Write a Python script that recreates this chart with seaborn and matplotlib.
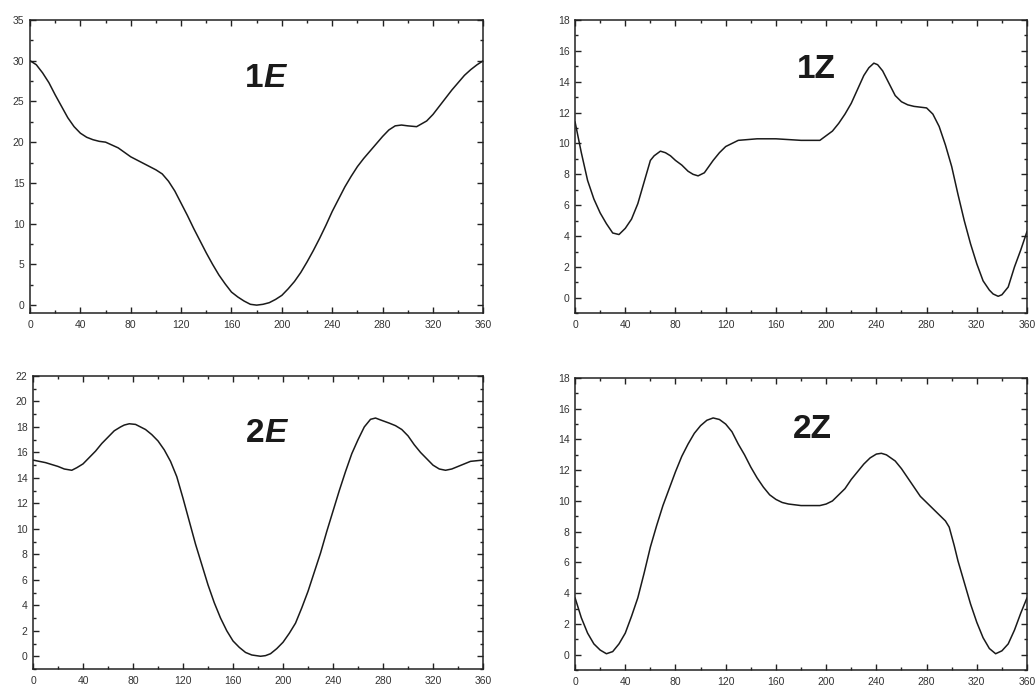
import matplotlib
matplotlib.use('Agg')
import matplotlib.pyplot as plt
from matplotlib.ticker import MultipleLocator
import seaborn as sns

sns.set_theme(style='ticks')
plt.rcParams['font.family'] = ['Liberation Sans', 'DejaVu Sans']

# 1E
e1_x = [0, 5, 10, 15, 20, 25, 30, 35, 40, 45, 50, 55, 60, 70, 80, 90, 100, 105,
        110, 115, 120, 125, 130, 135, 140, 145, 150, 155, 160, 165, 170, 175,
        180, 185, 190, 195, 200, 205, 210, 215, 220, 225, 230, 235, 240, 245,
        250, 255, 260, 265, 270, 275, 280, 285, 290, 295, 300, 307, 315, 320,
        325, 330, 335, 340, 345, 350, 355, 360]
e1_y = [30.0, 29.5, 28.5, 27.3, 25.8, 24.4, 23.0, 21.9, 21.1, 20.6, 20.3, 20.1,
        20.0, 19.3, 18.2, 17.4, 16.6, 16.1, 15.2, 14.0, 12.5, 11.0, 9.4, 7.9,
        6.4, 5.0, 3.7, 2.6, 1.6, 1.0, 0.5, 0.1, 0.0, 0.1, 0.3, 0.7, 1.2, 2.0,
        2.9, 4.0, 5.3, 6.7, 8.2, 9.8, 11.5, 13.0, 14.5, 15.8, 17.0, 18.0, 18.9,
        19.8, 20.7, 21.5, 22.0, 22.1, 22.0, 21.9, 22.6, 23.4, 24.4, 25.4, 26.4,
        27.3, 28.2, 28.9, 29.5, 30.0]

# 1Z
z1_x = [0, 5, 10, 15, 20, 25, 30, 35, 40, 45, 50, 55, 60, 63, 68, 72, 76, 80,
        85, 90, 94, 98, 103, 110, 115, 120, 125, 130, 145, 160, 180, 195, 205,
        210, 215, 220, 225, 230, 234, 238, 241, 245, 250, 255, 260, 265, 270,
        280, 285, 290, 295, 300, 305, 310, 315, 320, 325, 330, 333, 337, 340,
        345, 350, 355, 360]
z1_y = [11.4, 9.4, 7.6, 6.4, 5.5, 4.8, 4.2, 4.1, 4.5, 5.1, 6.1, 7.5, 8.9, 9.2,
        9.5, 9.4, 9.2, 8.9, 8.6, 8.2, 8.0, 7.9, 8.1, 8.9, 9.4, 9.8, 10.0, 10.2,
        10.3, 10.3, 10.2, 10.2, 10.8, 11.3, 11.9, 12.6, 13.5, 14.4, 14.9, 15.2,
        15.1, 14.7, 13.9, 13.1, 12.7, 12.5, 12.4, 12.3, 11.9, 11.1, 9.9, 8.5,
        6.7, 5.0, 3.5, 2.2, 1.1, 0.5, 0.25, 0.1, 0.2, 0.7, 2.0, 3.1, 4.3]

# 2E
e2_x = [0, 5, 10, 15, 20, 25, 31, 35, 40, 45, 50, 55, 60, 65, 70, 73, 77, 82,
        90, 95, 100, 105, 110, 115, 120, 125, 130, 135, 140, 145, 150, 155, 160,
        165, 170, 175, 182, 186, 190, 195, 200, 205, 210, 215, 220, 225, 230,
        235, 240, 245, 250, 255, 260, 265, 270, 274, 278, 285, 290, 295, 300,
        305, 310, 315, 320, 325, 330, 335, 340, 345, 350, 355, 360]
e2_y = [15.4, 15.3, 15.2, 15.05, 14.9, 14.7, 14.6, 14.8, 15.1, 15.6, 16.1, 16.7,
        17.2, 17.7, 18.0, 18.15, 18.25, 18.2, 17.8, 17.4, 16.9, 16.2, 15.3, 14.1,
        12.4, 10.6, 8.8, 7.2, 5.6, 4.2, 3.0, 2.0, 1.2, 0.7, 0.3, 0.1, 0.0, 0.05,
        0.2, 0.6, 1.1, 1.8, 2.6, 3.8, 5.1, 6.6, 8.1, 9.8, 11.4, 13.0, 14.5, 15.9,
        17.0, 18.0, 18.6, 18.7, 18.55, 18.3, 18.1, 17.8, 17.3, 16.6, 16.0, 15.5,
        15.0, 14.7, 14.6, 14.7, 14.9, 15.1, 15.3, 15.35, 15.4]

# 2Z
z2_x = [0, 5, 10, 15, 20, 25, 30, 35, 40, 45, 50, 55, 60, 65, 70, 75, 80, 85,
        90, 95, 100, 105, 110, 115, 120, 125, 130, 135, 140, 145, 150, 155, 160,
        165, 170, 180, 188, 195, 200, 205, 210, 215, 220, 225, 230, 235, 240,
        244, 248, 255, 260, 265, 270, 275, 280, 285, 290, 295, 298, 302, 305,
        310, 315, 320, 325, 330, 335, 340, 345, 350, 355, 360]
z2_y = [3.7, 2.4, 1.4, 0.7, 0.3, 0.06, 0.2, 0.7, 1.4, 2.5, 3.7, 5.3, 7.0, 8.4,
        9.7, 10.8, 11.9, 12.9, 13.7, 14.4, 14.9, 15.25, 15.4, 15.3, 15.0, 14.5,
        13.7, 13.0, 12.2, 11.5, 10.9, 10.4, 10.1, 9.9, 9.8, 9.7, 9.7, 9.7, 9.8,
        10.0, 10.4, 10.8, 11.4, 11.9, 12.4, 12.8, 13.05, 13.1, 13.0, 12.6, 12.1,
        11.5, 10.9, 10.3, 9.9, 9.5, 9.1, 8.7, 8.3, 7.1, 6.1, 4.7, 3.3, 2.1, 1.1,
        0.4, 0.06, 0.25, 0.7, 1.6, 2.7, 3.7]

x_ticks = list(range(0, 361, 40))

panels = [
    # (x, y, label num, letter, italic, ylim, major, minor, rect, label pos)
    (e1_x, e1_y, '1', 'E', True, (-1, 35), 5, 2.5,
     [0.029, 0.544, 0.438, 0.427], (0.512, 0.80)),
    (z1_x, z1_y, '1', 'Z', False, (-1, 18), 2, 1,
     [0.5556, 0.544, 0.4367, 0.427], (0.533, 0.83)),
    (e2_x, e2_y, '2', 'E', True, (-1, 22), 2, 1,
     [0.0319, 0.0262, 0.4348, 0.4265], (0.512, 0.803)),
    (z2_x, z2_y, '2', 'Z', False, (-1, 18), 2, 1,
     [0.5556, 0.0247, 0.4367, 0.4251], (0.524, 0.822)),
]

fig = plt.figure(figsize=(10.35, 6.87), dpi=100)
fig.patch.set_facecolor('white')

for xs, ys, num, letter, italic, ylim, major, minor, rect, lpos in panels:
    ax = fig.add_axes(rect)
    ax.set_facecolor('white')
    sns.lineplot(x=xs, y=ys, ax=ax, color='#1a1a1a', linewidth=1.1,
                 sort=False, estimator=None)
    ax.set_xlim(0, 360)
    ax.set_ylim(*ylim)
    ax.set_xticks(x_ticks)
    ax.xaxis.set_minor_locator(MultipleLocator(20))
    ax.yaxis.set_major_locator(MultipleLocator(major))
    ax.yaxis.set_minor_locator(MultipleLocator(minor))
    ax.set_yticks([t for t in ax.get_yticks() if 0 <= t <= ylim[1]])
    ax.tick_params(which='both', direction='in', top=True, right=True,
                   color='#222222', width=1.0)
    ax.tick_params(which='major', length=4.0)
    ax.tick_params(which='minor', length=2.2)
    ax.tick_params(axis='x', which='major', labelsize=7.5, labelcolor='#333333', pad=5)
    ax.tick_params(axis='y', which='major', labelsize=7.5, labelcolor='#333333', pad=4)
    for s in ax.spines.values():
        s.set_linewidth(1.1)
        s.set_color('#222222')
    ax.set(xlabel=None, ylabel=None)

    if italic:
        ax.text(lpos[0] + 0.002, lpos[1], num, transform=ax.transAxes,
                ha='right', va='center', fontsize=24, fontweight='bold',
                color='#1a1a1a')
        ax.text(lpos[0] + 0.002, lpos[1], letter, transform=ax.transAxes,
                ha='left', va='center', fontsize=24, fontweight='bold',
                style='italic', color='#1a1a1a')
    else:
        ax.text(lpos[0], lpos[1], num + letter, transform=ax.transAxes,
                ha='center', va='center', fontsize=24, fontweight='bold',
                color='#1a1a1a')

plt.savefig('out.png', dpi=100, facecolor='white')
